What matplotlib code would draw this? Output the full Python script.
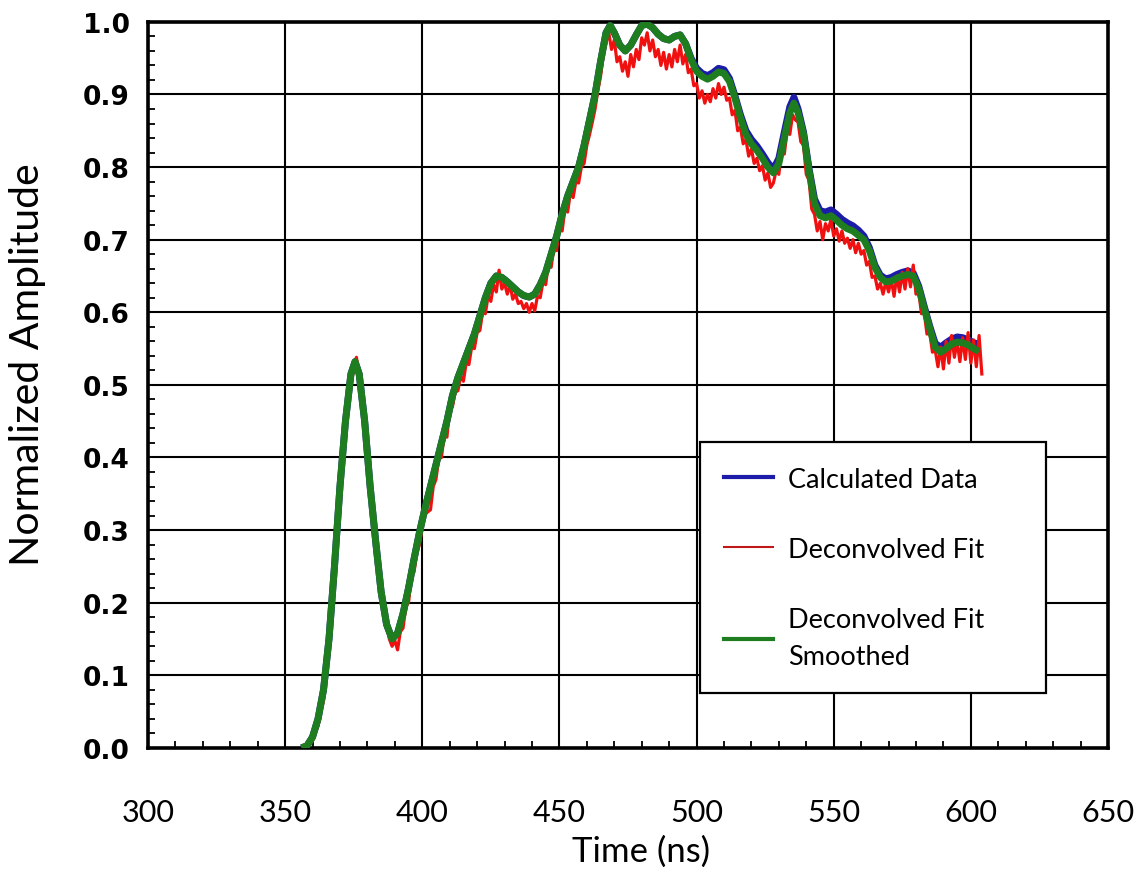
import numpy as np
import matplotlib
matplotlib.use("Agg")
import matplotlib.pyplot as plt
from matplotlib.ticker import AutoMinorLocator
from matplotlib.lines import Line2D

# smoothed fit (green) and calculated data (blue), sampled on the same time points
smooth_t = [356, 358, 360, 362, 364, 366, 368, 370, 372, 374, 375.5, 377, 379, 381, 383, 385,
            387, 389, 391, 393, 395, 397, 399, 401, 403, 405, 407, 409, 411, 413, 415, 417,
            419, 421, 423, 425, 427, 429, 431, 433, 435, 437, 439, 441, 443, 445, 447, 449,
            451, 453, 455, 457, 459, 461, 463, 465, 467, 468.5, 470, 472, 474, 476, 478, 480,
            482, 484, 486, 488, 490, 492, 494, 496, 498, 500, 502, 504, 506, 508, 510, 512,
            514, 516, 518, 520, 522, 524, 526, 528, 530, 532, 534, 535.5, 537, 539, 541, 543,
            545, 547, 549, 551, 553, 555, 557, 559, 561, 563, 565, 567, 569, 571, 573, 575,
            577, 579, 581, 583, 585, 587, 589, 591, 593, 595, 597, 599, 601, 603]

smoothed = [0.000, 0.003, 0.015, 0.040, 0.080, 0.150, 0.250, 0.360, 0.450, 0.515, 0.532, 0.515,
            0.450, 0.360, 0.285, 0.215, 0.170, 0.150, 0.158, 0.185, 0.220, 0.260, 0.297, 0.330,
            0.360, 0.390, 0.420, 0.450, 0.485, 0.510, 0.530, 0.550, 0.570, 0.595, 0.620, 0.640,
            0.650, 0.648, 0.642, 0.635, 0.628, 0.623, 0.621, 0.625, 0.638, 0.655, 0.680, 0.705,
            0.735, 0.760, 0.780, 0.800, 0.830, 0.865, 0.900, 0.945, 0.985, 0.995, 0.985, 0.968,
            0.960, 0.968, 0.982, 0.995, 0.997, 0.992, 0.983, 0.977, 0.975, 0.980, 0.982, 0.970,
            0.948, 0.932, 0.925, 0.921, 0.925, 0.931, 0.929, 0.918, 0.895, 0.868, 0.845, 0.832,
            0.823, 0.812, 0.800, 0.792, 0.805, 0.840, 0.875, 0.888, 0.875, 0.845, 0.795, 0.750,
            0.733, 0.730, 0.733, 0.727, 0.720, 0.715, 0.712, 0.706, 0.700, 0.685, 0.662, 0.648,
            0.642, 0.643, 0.647, 0.650, 0.652, 0.650, 0.633, 0.605, 0.578, 0.552, 0.545, 0.550,
            0.556, 0.559, 0.558, 0.555, 0.550, 0.546]

calculated = [0.000, 0.003, 0.015, 0.040, 0.080, 0.150, 0.250, 0.360, 0.450, 0.515, 0.532, 0.515,
              0.450, 0.360, 0.285, 0.215, 0.170, 0.150, 0.158, 0.185, 0.220, 0.260, 0.297, 0.330,
              0.360, 0.390, 0.420, 0.450, 0.485, 0.510, 0.530, 0.550, 0.570, 0.595, 0.620, 0.640,
              0.650, 0.648, 0.642, 0.635, 0.628, 0.623, 0.621, 0.625, 0.638, 0.655, 0.680, 0.705,
              0.735, 0.760, 0.780, 0.800, 0.830, 0.865, 0.900, 0.945, 0.985, 0.995, 0.985, 0.968,
              0.960, 0.968, 0.982, 0.995, 0.997, 0.992, 0.983, 0.977, 0.975, 0.980, 0.982, 0.970,
              0.950, 0.936, 0.929, 0.926, 0.930, 0.936, 0.934, 0.922, 0.898, 0.872, 0.850, 0.838,
              0.829, 0.818, 0.806, 0.797, 0.812, 0.848, 0.883, 0.896, 0.880, 0.848, 0.798, 0.756,
              0.740, 0.738, 0.741, 0.735, 0.728, 0.723, 0.719, 0.713, 0.705, 0.689, 0.665, 0.651,
              0.646, 0.648, 0.652, 0.655, 0.657, 0.654, 0.636, 0.608, 0.581, 0.557, 0.552, 0.558,
              0.563, 0.566, 0.565, 0.562, 0.558, 0.556]

# raw deconvolved fit (red), one sample per ns
fit_t = np.arange(357, 605)
deconvolved = [
    0.000, 0.002, 0.006, 0.010, 0.022, 0.030, 0.052, 0.065, 0.105, 0.130,   # 357-366
    0.190, 0.225, 0.290, 0.330, 0.395, 0.430, 0.478, 0.500, 0.522, 0.538,   # 367-376
    0.512, 0.488, 0.445, 0.412, 0.365, 0.318, 0.290, 0.250, 0.222, 0.190,   # 377-386
    0.172, 0.150, 0.140, 0.148, 0.135, 0.160, 0.165, 0.195, 0.200, 0.238,   # 387-396
    0.242, 0.270, 0.280, 0.305, 0.322, 0.325, 0.328, 0.360, 0.370, 0.398,   # 397-406
    0.400, 0.432, 0.428, 0.468, 0.470, 0.490, 0.492, 0.512, 0.505, 0.530,   # 407-416
    0.528, 0.552, 0.550, 0.572, 0.575, 0.600, 0.598, 0.622, 0.615, 0.638,   # 417-426
    0.628, 0.658, 0.632, 0.640, 0.625, 0.638, 0.618, 0.625, 0.612, 0.615,   # 427-436
    0.605, 0.612, 0.600, 0.612, 0.602, 0.622, 0.620, 0.642, 0.638, 0.668,   # 437-446
    0.662, 0.690, 0.685, 0.718, 0.712, 0.742, 0.738, 0.765, 0.758, 0.780,   # 447-456
    0.778, 0.800, 0.805, 0.830, 0.845, 0.862, 0.880, 0.905, 0.925, 0.955,   # 457-466
    0.972, 0.985, 0.962, 0.975, 0.945, 0.952, 0.932, 0.945, 0.925, 0.955,   # 467-476
    0.938, 0.962, 0.948, 0.978, 0.968, 0.985, 0.960, 0.975, 0.952, 0.962,   # 477-486
    0.940, 0.958, 0.935, 0.955, 0.938, 0.962, 0.945, 0.968, 0.942, 0.955,   # 487-496
    0.930, 0.935, 0.912, 0.915, 0.895, 0.905, 0.888, 0.900, 0.890, 0.908,   # 497-506
    0.895, 0.915, 0.900, 0.910, 0.892, 0.895, 0.872, 0.878, 0.850, 0.855,   # 507-516
    0.832, 0.838, 0.815, 0.825, 0.805, 0.812, 0.795, 0.802, 0.782, 0.792,   # 517-526
    0.772, 0.778, 0.795, 0.790, 0.825, 0.818, 0.850, 0.845, 0.872, 0.865,   # 527-536
    0.862, 0.835, 0.830, 0.790, 0.782, 0.742, 0.735, 0.712, 0.725, 0.700,   # 537-546
    0.722, 0.712, 0.728, 0.705, 0.715, 0.698, 0.712, 0.695, 0.702, 0.688,   # 547-556
    0.700, 0.682, 0.695, 0.680, 0.685, 0.665, 0.670, 0.648, 0.650, 0.632,   # 557-566
    0.640, 0.625, 0.642, 0.628, 0.645, 0.622, 0.650, 0.628, 0.655, 0.632,   # 567-576
    0.660, 0.635, 0.665, 0.625, 0.628, 0.598, 0.600, 0.570, 0.572, 0.545,   # 577-586
    0.548, 0.525, 0.552, 0.522, 0.560, 0.530, 0.568, 0.538, 0.560, 0.532,   # 587-596
    0.565, 0.535, 0.572, 0.530, 0.562, 0.525, 0.568, 0.515,                 # 597-604
]

x_ticks = [300, 350, 400, 450, 500, 550, 600, 650]
y_ticks = [0.0, 0.1, 0.2, 0.3, 0.4, 0.5, 0.6, 0.7, 0.8, 0.9, 1.0]

fig = plt.figure(figsize=(11.47, 8.79), dpi=100)
ax = fig.add_axes([0.129, 0.148, 0.837, 0.826])

ax.plot(smooth_t, calculated, color="#1c1ca8", linewidth=5.0, solid_capstyle="butt", zorder=3)
ax.plot(fit_t, deconvolved, color="#f01010", linewidth=2.3, zorder=4)
ax.plot(smooth_t, smoothed, color="#1e7d1e", linewidth=5.0, solid_capstyle="butt", zorder=5)

ax.set_xlim(300, 650)
ax.set_ylim(0, 1.0)
ax.set_xticks(x_ticks)
ax.set_yticks(y_ticks)
ax.set_yticklabels(["%.1f" % v for v in y_ticks])
ax.xaxis.set_minor_locator(AutoMinorLocator(5))
ax.yaxis.set_minor_locator(AutoMinorLocator(5))
ax.grid(True, which="major", color="black", linewidth=1.5, zorder=1)
ax.set_axisbelow(True)

for s in ax.spines.values():
    s.set_linewidth(2.6)
ax.tick_params(which="major", length=0)
ax.tick_params(axis="x", which="major", pad=36)
ax.tick_params(axis="y", which="major", pad=13)
ax.tick_params(which="minor", direction="in", length=5, width=1.3, top=False, right=False)

for lbl in ax.get_xticklabels():
    lbl.set_fontfamily("Lato")
    lbl.set_fontsize(22)
for lbl in ax.get_yticklabels():
    lbl.set_fontfamily("DejaVu Sans")
    lbl.set_fontweight("bold")
    lbl.set_fontsize(19)

fig.text(641 / 1147, 1 - 852 / 879, "Time (ns)", family="Lato", fontsize=25,
         ha="center", va="center")
fig.text(28 / 1147, 1 - 365 / 879, "Normalized Amplitude", family="Lato", fontsize=29.5,
         rotation=90, ha="center", va="center")

handles = [Line2D([], [], color="#1c1ca8", linewidth=3),
           Line2D([], [], color="#c01818", linewidth=1.5),
           Line2D([], [], color="#1e7d1e", linewidth=3)]
labels = ["Calculated Data", "Deconvolved Fit", "Deconvolved Fit\nSmoothed"]
leg = ax.legend(handles, labels, loc="upper left", bbox_to_anchor=(0.575, 0.077, 0.36, 0.344),
                mode="expand", frameon=True, fancybox=False, framealpha=1, edgecolor="black",
                prop={"family": "Lato", "size": 19.5}, handlelength=1.8,
                handletextpad=0.55, labelspacing=1.67, borderpad=0.9, borderaxespad=0)
leg.get_frame().set_linewidth(1.6)
leg.get_texts()[2].set_linespacing(1.6)
leg.set_zorder(10)

fig.savefig("out.png", dpi=100)
